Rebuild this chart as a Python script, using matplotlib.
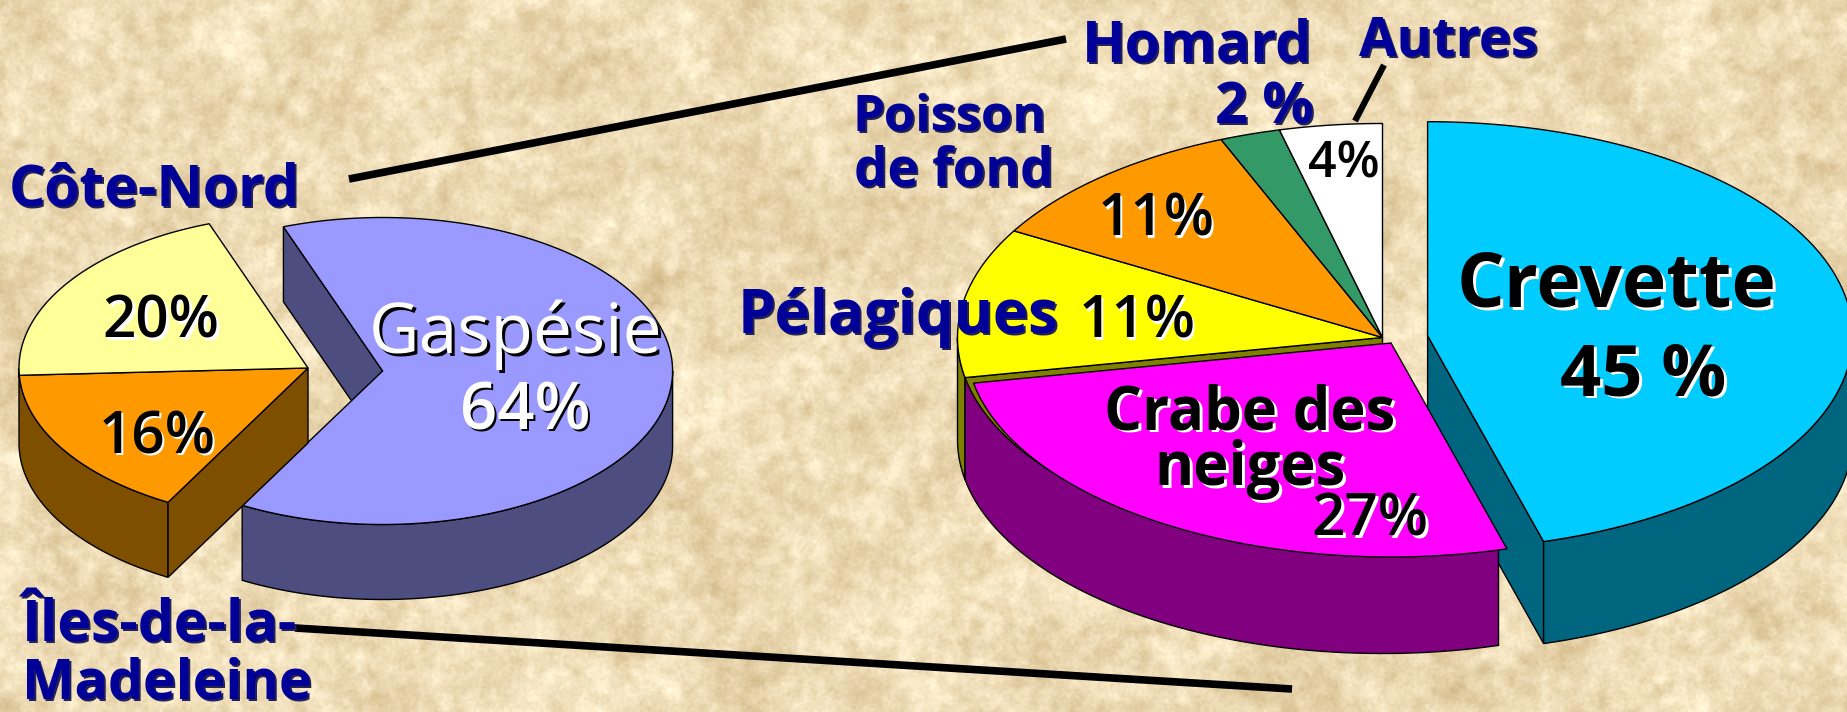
"""Débarquements par région et par espèce, deux tartes en 3D sur fond parchemin."""

import numpy as np
import matplotlib
matplotlib.use("Agg")
import matplotlib.pyplot as plt

regions = ["Gaspésie", "Îles-de-la-Madeleine", "Côte-Nord"]
# parts, les étiquettes sont arrondies
region_parts = [63.6, 16.2, 20.2]
region_labels = ["64%", "16%", "20%"]

especes = ["Crevette", "Crabe des neiges", "Pélagiques", "Poisson de fond", "Homard", "Autres"]
espece_parts = [45.6, 26.4, 11.3, 10.5, 2.3, 3.9]
espece_labels = ["45 %", "27%", "11%", "11%", "2 %", "4%"]

DEPTH_L = 75
DEPTH_R = 102
BLUE = "#000099"


def xy(c, a):
    t = np.radians(a)
    return c[0] + c[2] * np.cos(t), c[1] - c[3] * np.sin(t)


def arc(c, a0, a1):
    return xy(c, np.linspace(a0, a1, 200))


def top(ax, c, a0, a1, color, z):
    x, y = arc(c, a0, a1)
    ax.fill(np.r_[c[0], x], np.r_[c[1], y], fc=color, ec="black", lw=1, zorder=z)


def wall(ax, c, a0, a1, d, color, z):
    x, y = arc(c, a0, a1)
    ax.fill(np.r_[x, x[::-1]], np.r_[y, y[::-1] + d], fc=color, ec="black", lw=1, zorder=z)


def face(ax, c, a, d, color, z):
    x, y = xy(c, a)
    ax.fill([c[0], x, x, c[0]], [c[1], y, y + d, c[1] + d], fc=color, ec="black", lw=1, zorder=z)


def label(ax, x, y, s, size, color="black", shadow="white", weight="semibold", off=2.5):
    y = y + 5
    ax.text(x + off, y + off, s, fontsize=size, color=shadow, weight=weight, ha="center",
            va="center", family="Open Sans", zorder=20)
    ax.text(x, y, s, fontsize=size, color=color, weight=weight, ha="center",
            va="center", family="Open Sans", zorder=21)


def parchment():
    # fond texturé seulement, aucune donnée ici
    rng = np.random.default_rng(4)
    h, w = 712, 1847
    fy = np.fft.fftfreq(h)[:, None]
    fx = np.fft.rfftfreq(w)[None, :]
    r = np.hypot(fx, fy)
    noise = np.zeros((h, w))
    for sigma, amp in [(0.012, 6), (0.05, 6), (0.2, 3.5)]:
        n = np.fft.irfft2(np.fft.rfft2(rng.normal(size=(h, w))) * np.exp(-(r / sigma) ** 2), s=(h, w))
        noise += amp * n / n.std()
    base = np.array([238, 220, 182], dtype=float)
    tint = np.array([0.8, 1.0, 1.3])
    img = base + noise[..., None] * tint
    return np.clip(img, 0, 255).astype(np.uint8)


fig = plt.figure(figsize=(18.47, 7.12), dpi=100)
ax = fig.add_axes([0, 0, 1, 1])
ax.imshow(parchment(), extent=(0, 1847, 712, 0), aspect="auto", zorder=0)
ax.set_xlim(0, 1847)
ax.set_ylim(712, 0)
ax.axis("off")

# tarte de gauche, Gaspésie détachée
start = 110
a_gasp = start - region_parts[0] * 3.6
a_iles = a_gasp - region_parts[1] * 3.6
a_cote = a_iles - region_parts[2] * 3.6
c_gasp = (382.6, 371, 290, 153.5)
c_rest = (308, 368, 289, 153.5)

face(ax, c_gasp, start, DEPTH_L, "#4D4D80", 2)
wall(ax, c_gasp, a_gasp, 0, DEPTH_L, "#4D4D80", 2)
top(ax, c_gasp, start, a_gasp, "#9999FF", 3)

wall(ax, c_rest, a_gasp + 360, 180, DEPTH_L, "#7F4F00", 4)
face(ax, c_rest, a_gasp, DEPTH_L, "#7F4F00", 4)
top(ax, c_rest, a_gasp, a_iles, "#FF9900", 5)
top(ax, c_rest, a_iles, a_cote, "#FFFF99", 5)

# tarte de droite
c_main = (1382.5, 337.5, 425, 214)
c_crev = (1427.6, 335.7, 425, 214)
c_crab = (1391, 343, 425, 214)
bounds = 90 - np.cumsum([0] + espece_parts) * 3.6
colors = ["#00CCFF", "#FF00FF", "#FFFF00", "#FF9900", "#339966", "#FFFFFF"]

face(ax, c_crev, bounds[1], DEPTH_R, "#006680", 6)
wall(ax, c_crev, bounds[1], 0, DEPTH_R, "#006680", 6)
top(ax, c_crev, bounds[0], bounds[1], colors[0], 7)

face(ax, c_main, bounds[2], DEPTH_R, "#808000", 6)
wall(ax, c_main, bounds[2], -180, DEPTH_R, "#808000", 6)
wall(ax, c_main, bounds[1], bounds[2], DEPTH_R, "#800080", 7)
for i in range(2, len(espece_parts)):
    top(ax, c_main, bounds[i], bounds[i + 1], colors[i], 8)
top(ax, c_crab, bounds[1], bounds[2], colors[1], 9)

# traits de renvoi
ax.plot([349, 1066], [179, 39], color="black", lw=5.5, solid_capstyle="butt", zorder=10)
ax.plot([295, 1292], [628, 689], color="black", lw=5.5, solid_capstyle="butt", zorder=10)
ax.plot([1355, 1384], [121, 65], color="black", lw=4.5, solid_capstyle="butt", zorder=10)

# étiquettes de la tarte de gauche
label(ax, 154, 186, "Côte-Nord", 41, BLUE, "#222255", "bold", 2)
label(ax, 159, 621, "Îles-de-la-", 41, BLUE, "#222255", "bold", 2)
label(ax, 167, 679, "Madeleine", 40, BLUE, "#222255", "bold", 2)
label(ax, 516, 330, "Gaspésie", 50, "white", "black", "normal")
label(ax, 525, 408, region_labels[0], 47, "white", "black")
label(ax, 161, 318, region_labels[2], 42)
label(ax, 157, 433, region_labels[1], 42)

# étiquettes de la tarte de droite
label(ax, 1197, 42, "Homard", 41, BLUE, "#222255", "bold", 2)
label(ax, 1264, 104, espece_labels[4], 41, BLUE, "#222255", "bold", 2)
label(ax, 1448, 36, "Autres", 39, BLUE, "#222255", "bold", 2)
label(ax, 949, 113, "Poisson", 36.5, BLUE, "#222255", "bold", 2)
label(ax, 954, 167, "de fond", 38, BLUE, "#222255", "bold", 2)
label(ax, 898, 313, "Pélagiques", 43, BLUE, "#222255", "bold", 2)
label(ax, 1344, 159, espece_labels[5], 36)
label(ax, 1156, 216, espece_labels[3], 42)
label(ax, 1137, 318, espece_labels[2], 42)
label(ax, 1617, 282, "Crevette", 54, weight="bold", off=3)
label(ax, 1643, 371, espece_labels[0], 52, weight="bold", off=3)
label(ax, 1250, 409, "Crabe des", 43, weight="bold")
label(ax, 1250, 465, "neiges", 43, weight="bold")
label(ax, 1370, 516, espece_labels[1], 42)

fig.savefig("out.png", dpi=100)
plt.close(fig)
